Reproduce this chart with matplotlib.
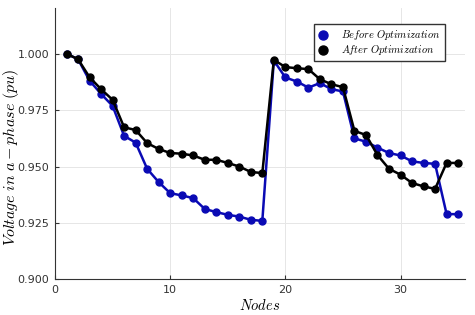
import matplotlib
matplotlib.use("Agg")
import matplotlib.pyplot as plt

# Node numbers and voltage profiles (pu)
nodes = list(range(1, 36))
before = [1.000, 0.9976, 0.9881, 0.9822, 0.9769, 0.9636, 0.9606, 0.9490, 0.9431, 0.9382,
          0.9372, 0.9360, 0.9312, 0.9298, 0.9286, 0.9278, 0.9264, 0.9259, 0.9970, 0.9895,
          0.9877, 0.9850, 0.9870, 0.9843, 0.9833, 0.9625, 0.9610, 0.9584, 0.9560, 0.9549,
          0.9523, 0.9516, 0.9512, 0.9289, 0.9289]
after = [1.000, 0.9976, 0.9896, 0.9843, 0.9796, 0.9674, 0.9662, 0.9604, 0.9578, 0.9560,
         0.9557, 0.9549, 0.9530, 0.9530, 0.9516, 0.9500, 0.9476, 0.9471, 0.9973, 0.9941,
         0.9936, 0.9932, 0.9887, 0.9865, 0.9852, 0.9658, 0.9640, 0.9551, 0.9490, 0.9464,
         0.9427, 0.9412, 0.9401, 0.9516, 0.9516]
xticks = [0, 10, 20, 30]
yticks = [0.900, 0.925, 0.950, 0.975, 1.000]

plt.rcParams['mathtext.fontset'] = 'cm'

fig = plt.figure(figsize=(4.75, 3.15), dpi=100)
ax = fig.add_axes([0.1158, 0.1133, 0.979 - 0.1158, 0.9746 - 0.1133])

ax.plot(nodes, before, '-o', color='#0a0ab4', lw=1.8, ms=5,
        label=r'$Before\ Optimization$')
ax.plot(nodes, after, '-o', color='black', lw=1.8, ms=5,
        label=r'$After\ Optimization$')

ax.set_xlim(0, 35.6)
ax.set_ylim(0.9, 1.0203)
ax.set_xticks(xticks)
ax.set_yticks(yticks)
ax.set_yticklabels(['%.3f' % v for v in yticks])
ax.grid(True, color='#e6e6e6', lw=0.7)
ax.set_axisbelow(True)
for s in ['top', 'right']:
    ax.spines[s].set_visible(False)
for s in ['left', 'bottom']:
    ax.spines[s].set_color('#333333')
ax.tick_params(direction='in', length=3, labelsize=8, colors='#333333', pad=4)

ax.set_xlabel(r'$Nodes$', fontsize=10.5, labelpad=2)
ax.set_ylabel(r'$Voltage\ in\ a-phase\ (pu)$', fontsize=11.5, va='center')
ax.yaxis.set_label_coords(-0.108, 0.448)

leg = ax.legend(loc='upper right', bbox_to_anchor=(0.963, 0.96), fontsize=7.5,
                fancybox=False, edgecolor='#333333', framealpha=1,
                handlelength=1.0, handletextpad=1.2, borderpad=0.4, labelspacing=0.1)
for h in leg.legend_handles:
    h.set_linestyle('')
    h.set_markersize(6.5)

fig.savefig('out.png', dpi=100)
